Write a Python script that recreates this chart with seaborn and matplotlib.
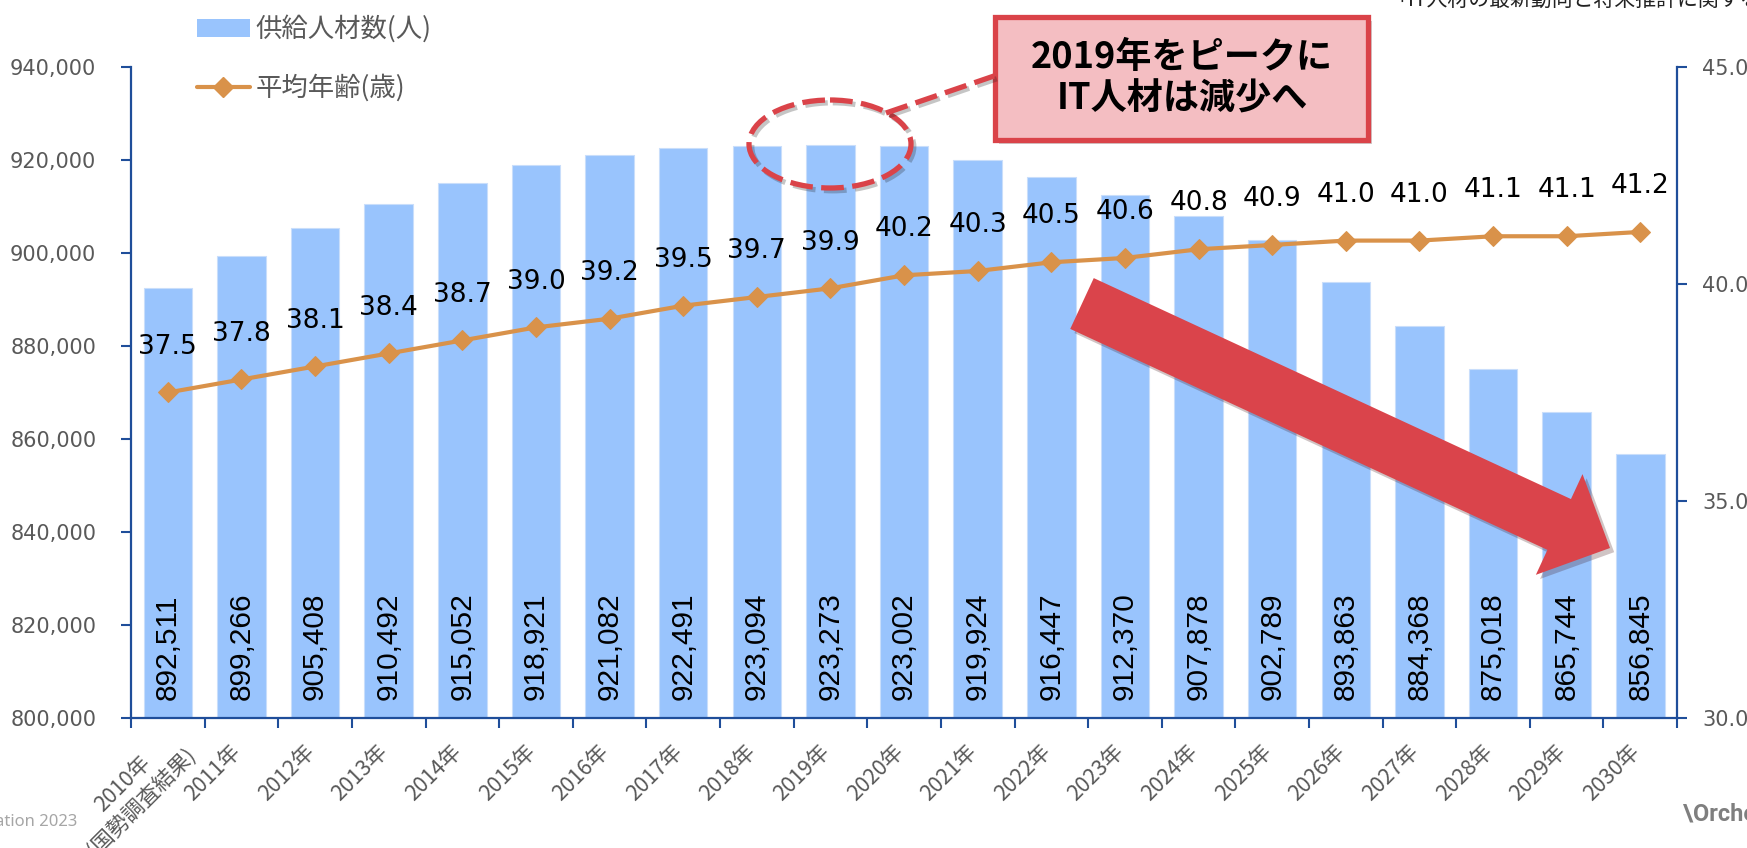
import numpy as np
import pandas as pd
import seaborn as sns
import matplotlib.pyplot as plt
import matplotlib.patheffects as pe
from matplotlib.patches import Patch, FancyBboxPatch, Ellipse, FancyArrow
from matplotlib.lines import Line2D
from matplotlib.ticker import FuncFormatter, MultipleLocator
from matplotlib.transforms import ScaledTranslation

# data
years = ["2010年\n(国勢調査結果)", "2011年", "2012年", "2013年", "2014年", "2015年",
         "2016年", "2017年", "2018年", "2019年", "2020年", "2021年", "2022年",
         "2023年", "2024年", "2025年", "2026年", "2027年", "2028年", "2029年", "2030年"]
supply = [892511, 899266, 905408, 910492, 915052, 918921, 921082, 922491, 923094,
          923273, 923002, 919924, 916447, 912370, 907878, 902789, 893863, 884368,
          875018, 865744, 856845]
age = [37.5, 37.8, 38.1, 38.4, 38.7, 39.0, 39.2, 39.5, 39.7, 39.9, 40.2, 40.3,
       40.5, 40.6, 40.8, 40.9, 41.0, 41.0, 41.1, 41.1, 41.2]
legend_labels = ["供給人材数(人)", "平均年齢(歳)"]

BAR = "#99C4FD"
LINE = "#D9924A"
AXIS = "#1F4E9A"
GRAY = "#595959"
RED = "#DA4349"

sns.set_theme(style="white")
plt.rcParams['font.family'] = ['DejaVu Sans']
JP = ['Noto Sans CJK JP', 'DejaVu Sans']

df = pd.DataFrame({"year": years, "supply": supply, "age": age,
                   "pos": np.arange(len(years))})
n = len(years)

fig = plt.figure(figsize=(17.47, 8.48), dpi=100)
ax = fig.add_axes([0.075, 0.1533, 0.885, 0.7677])

# bars
sns.barplot(data=df, x="year", y="supply", color=BAR, saturation=1, width=0.66,
            edgecolor="#C9DEFB", linewidth=0.8, ax=ax)
ax.set_ylim(800000, 940000)
ax.yaxis.set_major_locator(MultipleLocator(20000))
ax.yaxis.set_major_formatter(FuncFormatter(lambda v, p: f"{v:,.0f}"))
ax.set_xlabel("")
ax.set_ylabel("")

for i, v in enumerate(supply):
    ax.annotate(f"{v:,}", xy=(i, 800000), xytext=(0, 13), textcoords="offset points",
                rotation=90, ha="center", va="bottom", fontsize=21.5,
                family="Liberation Sans", color="black")

# line on second axis
ax2 = ax.twinx()
sns.lineplot(data=df, x="pos", y="age", color=LINE, linewidth=3, marker="D",
             markersize=10, markeredgecolor=LINE, ax=ax2)
ax2.set_ylim(30, 45)
ax2.set_yticks([30, 35, 40, 45])
ax2.yaxis.set_major_formatter(FuncFormatter(lambda v, p: f"{v:.1f}"))
ax2.set_ylabel("")
ax2.set_xlabel("")
for i, a in enumerate(age):
    ax2.annotate(f"{a:.1f}", xy=(i, a), xytext=(0, 33), textcoords="offset points",
                 ha="center", va="center", fontsize=19, color="black")

ax.set_xlim(-0.5, n - 0.5)

# axes styling
for a in (ax, ax2):
    a.spines["top"].set_visible(False)
ax.spines["right"].set_visible(False)
ax2.spines["left"].set_visible(False)
ax2.spines["bottom"].set_visible(False)
for s in ("left", "bottom"):
    ax.spines[s].set_color(AXIS)
    ax.spines[s].set_linewidth(1.6)
ax2.spines["right"].set_color(AXIS)
ax2.spines["right"].set_linewidth(1.6)

ax.tick_params(axis="y", left=True, direction="out", length=7, width=1.5, color=AXIS,
               labelsize=15, labelcolor=GRAY, pad=18)
ax2.tick_params(axis="y", right=True, direction="out", length=7, width=1.5, color=AXIS,
                labelsize=15, labelcolor=GRAY, pad=11)

ax.set_xticks(range(n))
ax.set_xticklabels(years, rotation=45, ha="right", va="center", rotation_mode="anchor",
                   fontsize=15.5, color=GRAY, family=JP, multialignment="center",
                   linespacing=1.2)
ax.tick_params(axis="x", which="major", bottom=True, length=0, pad=22)
ax.set_xticks(np.arange(-0.5, n, 1), minor=True)
ax.tick_params(axis="x", which="minor", bottom=True, direction="out", length=7,
               width=1.5, color=AXIS)
for k, lbl in enumerate(ax.get_xticklabels()):
    dx, dy = (0.15, 0.06) if k == 0 else (-0.04, 0)
    lbl.set_transform(lbl.get_transform() + ScaledTranslation(dx, dy, fig.dpi_scale_trans))

# legend
handles = [Patch(facecolor=BAR, edgecolor="none"),
           Line2D([], [], color=LINE, lw=3, marker="D", markersize=10)]
fig.legend(handles=handles, labels=legend_labels, loc="upper left",
           bbox_to_anchor=(197 / 1747, 1 - 15 / 848), frameon=False, borderpad=0,
           borderaxespad=0, handlelength=2.0, handleheight=0.68, handletextpad=0.23,
           labelspacing=1.2, prop={"family": JP, "size": 19}, labelcolor=GRAY)

# annotation layer in pixel coordinates
ov = fig.add_axes([0, 0, 1, 1], zorder=10)
ov.set_xlim(0, 1747)
ov.set_ylim(848, 0)
ov.axis("off")
shadow = [pe.SimplePatchShadow(offset=(3, -3), alpha=0.25), pe.Normal()]
line_shadow = [pe.SimpleLineShadow(offset=(2, -2), alpha=0.25), pe.Normal()]

ov.add_patch(FancyBboxPatch((995, 17), 373, 123, boxstyle="square,pad=0",
                            fc="#F4BEC2", ec=RED, lw=3.8, path_effects=shadow))
ov.text(1182, 78, "2019年をピークに\nIT人材は減少へ", ha="center", va="center",
        fontsize=26, weight="bold", family=JP, linespacing=1.15, color="black")
ov.add_patch(Ellipse((830, 144), 162, 88, fill=False, ec=RED, lw=3.8,
                     ls=(0, (4.3, 1.6)), path_effects=line_shadow))
ov.plot([886, 994], [113, 76], color=RED, lw=3.8, ls=(0, (4.3, 1.6)),
        path_effects=line_shadow)
ov.add_patch(FancyArrow(1082, 303.5, 528, 244.5, width=56, head_width=111,
                        head_length=56, length_includes_head=True, fc="#DA444B",
                        ec="none", path_effects=shadow))

ov.text(1387, 6, "「IT人材の最新動向と将来推計に関する調査結果」", ha="left",
        va="baseline", fontsize=15, family=JP, color="#222222")
ov.text(77, 822, "ation 2023", ha="right", va="center", fontsize=12,
        family="Noto Sans", color="#A6A6A6")
ov.text(1683, 814, "\\Orchestra", ha="left", va="center", fontsize=17,
        weight="bold", family="Roboto", color="#7F7F7F")

fig.savefig("out.png", dpi=100)
